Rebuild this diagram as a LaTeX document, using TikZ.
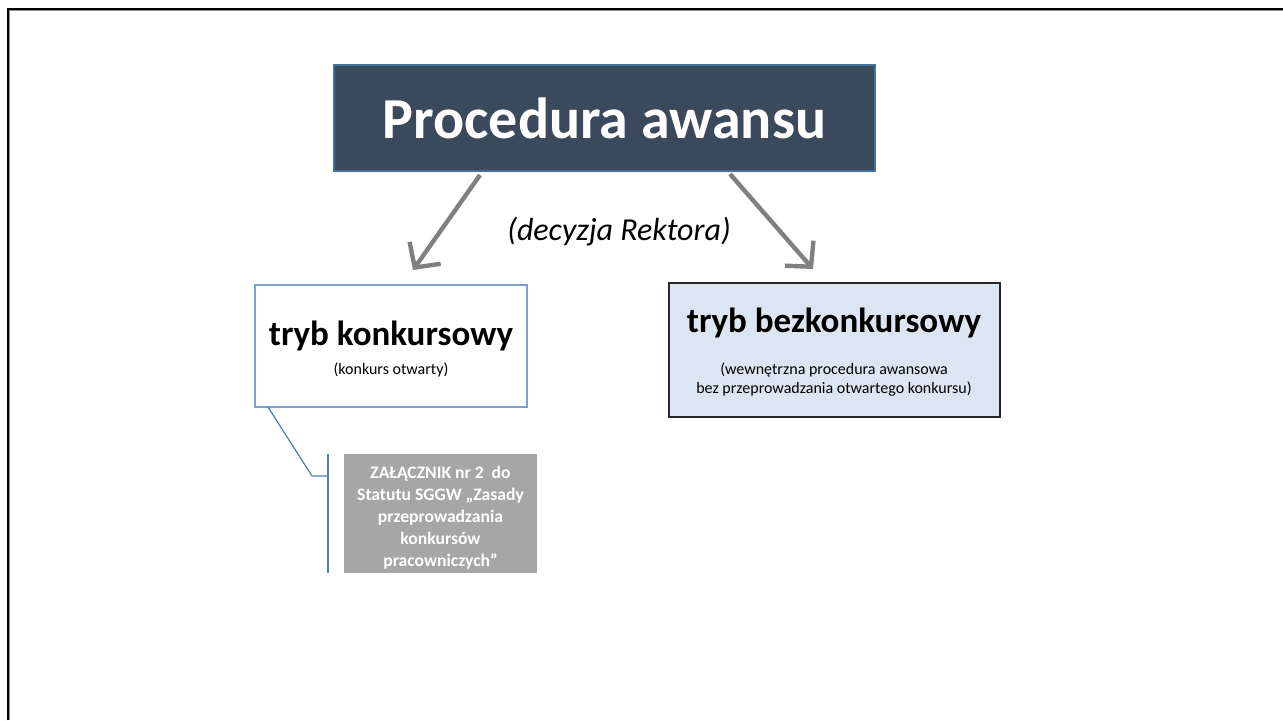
\documentclass[tikz,border=0pt]{standalone}
\usepackage{fontspec}
\setmainfont{Carlito}
\usetikzlibrary{arrows.meta}

\definecolor{titlefill}{RGB}{59,73,93}
\definecolor{titleline}{RGB}{65,113,156}
\definecolor{arrowgray}{RGB}{128,128,128}
\definecolor{konkline}{RGB}{127,160,205}
\definecolor{bezfill}{RGB}{220,230,242}
\definecolor{zalfill}{RGB}{166,166,166}
\definecolor{calloutblue}{RGB}{74,126,187}

\tikzset{
  titlebox/.style={draw=titleline,line width=0.6pt,fill=titlefill,text=white,
    minimum width=270.5pt,minimum height=53pt,inner sep=0pt,
    font=\fontsize{29}{34}\selectfont\bfseries},
  modebox/.style={minimum width=#1,inner sep=0pt},
  modetitle/.style={anchor=base,inner sep=0pt,font=\fontsize{17.5}{21}\selectfont\bfseries},
  modenote/.style={anchor=base,inner sep=0pt,align=center,font=\fontsize{8}{9.5}\selectfont},
  zalbox/.style={fill=zalfill,minimum width=96.5pt,minimum height=59.5pt,inner sep=0pt},
  zaltext/.style={anchor=base,text=white,inner sep=0pt,align=center,
    font=\fontsize{8.8}{10.9}\selectfont\bfseries},
  awarrow/.style={draw=arrowgray,line width=2.2pt,
    -{Straight Barb[length=9pt,width=19pt,line width=2.2pt]}},
  callout/.style={draw=calloutblue,line width=0.6pt}
}

\begin{document}
\begin{tikzpicture}[x=0.5pt,y=-0.5pt]
  \useasboundingbox (0,0) rectangle (1283,720);
  \draw[black,line width=1.2pt] (8,720) -- (8,9) -- (1283,9);
  \draw[black!45,line width=0.5pt] (9.6,720) -- (9.6,10.6) -- (1283,10.6);

  \path (604.5,118) node[titlebox] (title) {Procedura awansu};

  \path (391,346) node[modebox=136pt,minimum height=61pt,draw=konkline,line width=0.6pt,fill=white] (konk) {};
  \path (391,345) node[modetitle] (konktitle) {tryb konkursowy};
  \path (391,374) node[modenote] (konknote) {(konkurs otwarty)};

  \path (834.5,350) node[modebox=165.5pt,minimum height=67pt,draw=black!85,line width=1pt,fill=bezfill] (bez) {};
  \path (834,332) node[modetitle] (beztitle) {tryb bezkonkursowy};
  \path (834,393) node[modenote] (beznote) {(wewnętrzna procedura awansowa\\bez przeprowadzania otwartego konkursu)};

  \path (619,240) node[anchor=base,inner sep=0pt,font=\fontsize{16}{19}\selectfont\itshape] (decyzja) {(decyzja Rektora)};

  \coordinate (lstart) at (480,175);
  \coordinate (ltip) at (413,270);
  \coordinate (rstart) at (730,174);
  \coordinate (rtip) at (813,269);
  \draw[awarrow] (lstart) -- (ltip);
  \draw[awarrow] (rstart) -- (rtip);

  \path (440.5,513.5) node[zalbox] (zal) {};
  \path (440.5,566) node[zaltext] (zaltxt) {ZAŁĄCZNIK nr 2\ \ do\\Statutu SGGW „Zasady\\przeprowadzania\\konkursów\\pracowniczych”};

  \coordinate (cstart) at (268,407);
  \coordinate (celbow) at (312,476);
  \coordinate (cbar) at (328,476);
  \coordinate (bartop) at (328,454);
  \coordinate (barbot) at (328,573);
  \draw[callout] (cstart) -- (celbow) -- (cbar);
  \draw[callout] (bartop) -- (barbot);
\end{tikzpicture}
\end{document}
